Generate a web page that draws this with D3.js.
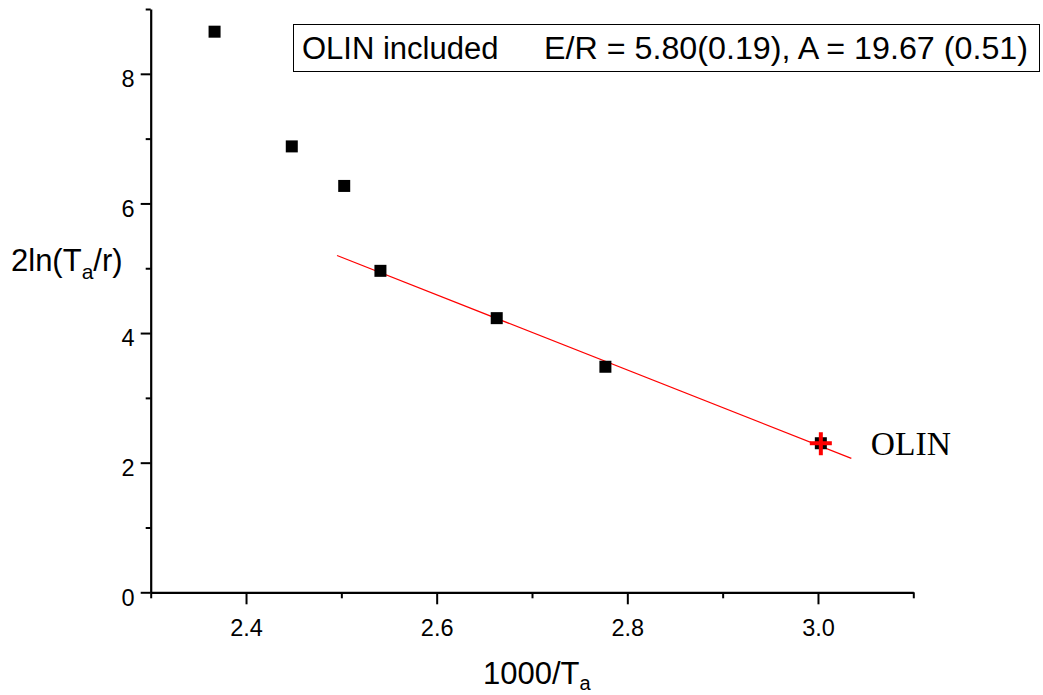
<!DOCTYPE html>
<html>
<head>
<meta charset="utf-8">
<script src="https://cdn.jsdelivr.net/npm/d3@7"></script>
<style>
  html, body { margin: 0; padding: 0; background: #fff; }
  svg { display: block; }
  text { font-family: "Liberation Sans", Arial, Helvetica, sans-serif; fill: #000; }
</style>
</head>
<body>
<svg id="chart" width="1043" height="695"></svg>
<script>
// Arrhenius-type plot: 2 ln(Ta/r) versus 1000/Ta
const invTemp = [2.367, 2.448, 2.503, 2.541, 2.663, 2.777];
const lnRatio = [8.65, 6.88, 6.27, 4.96, 4.23, 3.48];

// The OLIN point, plotted with an extra red cross
const olinInvTemp = [3.003];
const olinLnRatio = [2.30];

// Linear fit: y = A - (E/R) * x, drawn over this x span
const fitER = 5.80;
const fitA = 19.67;
const fitSpan = [2.4955, 3.035];

const xMajorTicks = [2.4, 2.6, 2.8, 3.0];
const xMinorTicks = [2.3, 2.5, 2.7, 2.9, 3.1];
const yMajorTicks = [0, 2, 4, 6, 8];
const yMinorTicks = [1, 3, 5, 7, 9];

const legendLabel = "OLIN included";
const legendStats = "E/R = 5.80(0.19), A = 19.67 (0.51)";

const svg = d3.select("#chart");

const x = d3.scaleLinear().domain([2.3, 3.1]).range([150.7, 913.3]);
const y = d3.scaleLinear().domain([0, 9]).range([592.3, 9]);

const fmtX = d3.format(".1f");

// X axis: major ticks with labels, minor ticks shorter
const gx = svg.append("g").attr("transform", `translate(0,${y(0)})`);
gx.call(d3.axisBottom(x).tickValues(xMajorTicks).tickSize(12).tickSizeOuter(0).tickFormat(fmtX))
  .call(g => g.select(".domain").attr("stroke-width", 2.2))
  .call(g => g.selectAll(".tick line").attr("stroke-width", 2))
  .call(g => g.selectAll(".tick text").attr("font-size", 23.5).attr("y", 27).attr("dy", "0.71em")
      .style("font-family", '"Liberation Sans", Arial, sans-serif'));
gx.append("g").call(d3.axisBottom(x).tickValues(xMinorTicks).tickSize(6).tickFormat(""))
  .call(g => g.select(".domain").remove())
  .call(g => g.selectAll(".tick line").attr("stroke-width", 2));

// Y axis: labels sit slightly below their ticks
const gy = svg.append("g").attr("transform", `translate(${x(2.3)},0)`);
gy.call(d3.axisLeft(y).tickValues(yMajorTicks).tickSize(10).tickSizeOuter(0).tickFormat(d3.format("d")))
  .call(g => g.select(".domain").attr("stroke-width", 2.2))
  .call(g => g.selectAll(".tick line").attr("stroke-width", 2))
  .call(g => g.selectAll(".tick text").attr("font-size", 23.5).attr("x", -16).attr("dy", "0.55em")
      .style("font-family", '"Liberation Sans", Arial, sans-serif'));
gy.append("g").call(d3.axisLeft(y).tickValues(yMinorTicks).tickSize(5).tickFormat(""))
  .call(g => g.select(".domain").remove())
  .call(g => g.selectAll(".tick line").attr("stroke-width", 2));

// Fitted line
const fitLine = d3.line().x(d => x(d)).y(d => y(fitA - fitER * d));
svg.append("path")
  .datum(fitSpan)
  .attr("d", fitLine)
  .attr("fill", "none")
  .attr("stroke", "#ff0000")
  .attr("stroke-width", 1.2);

// Data squares (including the OLIN point)
const sq = 12;
const allPts = invTemp.map((v, i) => [v, lnRatio[i]])
  .concat(olinInvTemp.map((v, i) => [v, olinLnRatio[i]]));
svg.append("g").selectAll("rect")
  .data(allPts)
  .join("rect")
  .attr("x", d => x(d[0]) - sq / 2)
  .attr("y", d => y(d[1]) - sq / 2)
  .attr("width", sq)
  .attr("height", sq)
  .attr("fill", "#000");

// Red cross on the OLIN point
const olinPts = olinInvTemp.map((v, i) => [v, olinLnRatio[i]]);
const cross = svg.append("g").selectAll("g").data(olinPts).join("g")
  .attr("transform", d => `translate(${x(d[0])},${y(d[1])})`);
cross.append("line").attr("x1", -11).attr("x2", 11).attr("y1", 0).attr("y2", 0)
  .attr("stroke", "#ff0000").attr("stroke-width", 4);
cross.append("line").attr("x1", 0).attr("x2", 0).attr("y1", -11).attr("y2", 12)
  .attr("stroke", "#ff0000").attr("stroke-width", 4);
cross.append("text")
  .attr("x", 50).attr("y", 12)
  .attr("font-size", 33.5)
  .style("font-family", '"Liberation Serif", "Times New Roman", serif')
  .text("OLIN");

// Legend box with fit results
const legend = svg.append("g");
legend.append("rect")
  .attr("x", 293.5).attr("y", 24.5)
  .attr("width", 746).attr("height", 47)
  .attr("fill", "#fff").attr("stroke", "#000").attr("stroke-width", 1);
legend.append("text").attr("x", 302).attr("y", 59).attr("font-size", 31).text(legendLabel);
legend.append("text").attr("x", 544).attr("y", 59).attr("font-size", 31)
  .attr("textLength", 484).attr("lengthAdjust", "spacingAndGlyphs").text(legendStats);

// Axis titles with subscripts
const yTitle = svg.append("text").attr("x", 11).attr("y", 271).attr("font-size", 31);
yTitle.append("tspan").text("2ln(T");
yTitle.append("tspan").attr("font-size", 21).attr("dy", 8).text("a");
yTitle.append("tspan").attr("dy", -8).text("/r)");

const xTitle = svg.append("text").attr("x", 483).attr("y", 684).attr("font-size", 31);
xTitle.append("tspan").text("1000/T");
xTitle.append("tspan").attr("font-size", 20).attr("dy", 6).text("a");
</script>
</body>
</html>
